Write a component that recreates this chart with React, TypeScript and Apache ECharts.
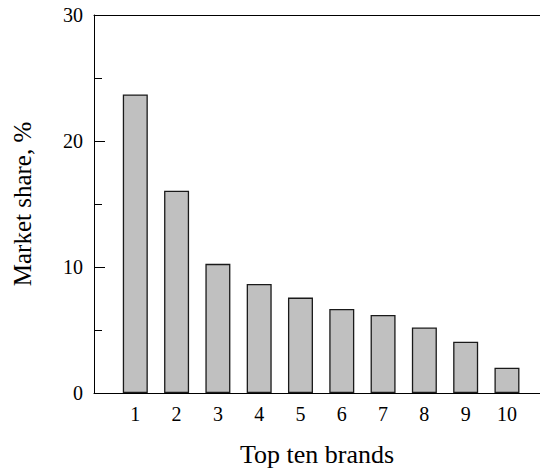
import React, { useEffect, useRef } from "react";
import * as echarts from "echarts";

// Brand ranks and their market share (%)
const brands = [1, 2, 3, 4, 5, 6, 7, 8, 9, 10];
const marketShare = [23.7, 16.05, 10.25, 8.65, 7.57, 6.67, 6.2, 5.2, 4.07, 2.0];
const yTicks = [0, 10, 20, 30];

const FONT = "Liberation Serif";

export default function App() {
  const ref = useRef<HTMLDivElement>(null);

  useEffect(() => {
    document.body.style.margin = "0";
    if (!ref.current) return;
    const chart = echarts.init(ref.current, undefined, { renderer: "svg" });
    const data = brands.map((b, i) => [b, marketShare[i]]);
    chart.setOption({
      animation: false,
      grid: { left: 94, right: 0, top: 15, bottom: 77, outerBoundsMode: "none", containLabel: false },
      xAxis: [
        {
          type: "value",
          min: 0,
          max: 10.8,
          interval: 1,
          name: "Top ten brands",
          nameLocation: "middle",
          nameGap: 48,
          nameTextStyle: { fontFamily: FONT, fontSize: 26, color: "#000" },
          axisLine: { show: true, onZero: false, lineStyle: { color: "#000", width: 1 } },
          axisTick: { show: false },
          splitLine: { show: false },
          axisLabel: {
            fontFamily: FONT,
            fontSize: 20,
            color: "#000",
            margin: 11,
            showMinLabel: false,
            showMaxLabel: false,
            formatter: (v: number) => (brands.includes(v) ? String(v) : ""),
          },
        },
        {
          type: "value",
          position: "top",
          min: 0,
          max: 10.8,
          axisLine: { show: true, onZero: false, lineStyle: { color: "#000", width: 1 } },
          axisTick: { show: false },
          axisLabel: { show: false },
          splitLine: { show: false },
        },
      ],
      yAxis: {
        type: "value",
        min: yTicks[0],
        max: yTicks[yTicks.length - 1],
        interval: 10,
        name: "Market share, %",
        nameLocation: "middle",
        nameGap: 59,
        nameTextStyle: { fontFamily: FONT, fontSize: 25, color: "#000" },
        axisLine: { show: true, lineStyle: { color: "#000", width: 1 } },
        axisTick: { show: true, inside: true, length: 11, lineStyle: { color: "#000" } },
        minorTick: { show: true, splitNumber: 2, length: 8, lineStyle: { color: "#000" } },
        splitLine: { show: false },
        axisLabel: { fontFamily: FONT, fontSize: 20, color: "#000", margin: 11 },
      },
      series: [
        {
          type: "bar",
          data,
          barWidth: 25,
          itemStyle: { color: "#c0c0c0", borderColor: "#1a1a1a", borderWidth: 1.3 },
        },
      ],
    });
    return () => chart.dispose();
  }, []);

  return <div ref={ref} style={{ width: 540, height: 470 }} />;
}
